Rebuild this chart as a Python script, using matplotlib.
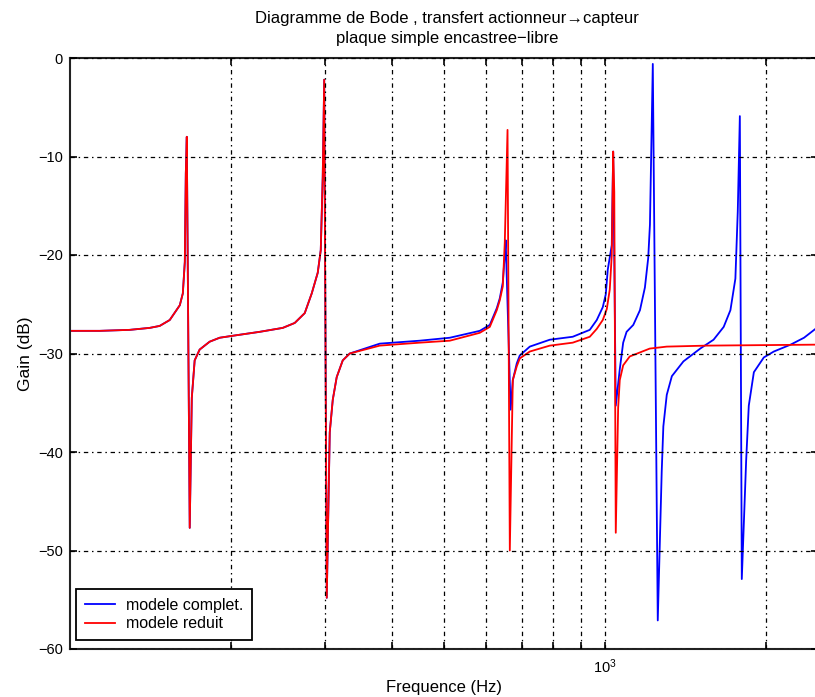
import matplotlib
matplotlib.use("Agg")
import matplotlib.pyplot as plt
from matplotlib.ticker import FixedLocator, NullFormatter, FixedFormatter

plt.rcParams['font.family'] = ['Liberation Sans', 'DejaVu Sans']
plt.rcParams['mathtext.fontset'] = 'custom'
plt.rcParams['mathtext.rm'] = 'Liberation Sans'
plt.rcParams['mathtext.it'] = 'Liberation Sans'

# Gain curves (frequency in Hz, gain in dB)
red_freq = [100, 113.6, 129.3, 140.9, 147.1, 153.6, 160.4, 162.5, 163.9, 164.6, 165.3,
            167.4, 168.9, 171.0, 174.7, 182.4, 190.4, 201.4, 226.2, 249.8, 263.0, 274.6,
            283.0, 290.4, 294.2, 296.7, 298.6, 301.9, 305.8, 309.8, 315.1, 323.4, 333.3,
            379.2, 450.4, 512.6, 583.2, 608.9, 627.5, 635.6, 643.9, 649.5, 657.2, 663.7,
            672.3, 683.9, 692.8, 723.3, 788.3, 870.1, 936.3, 964.9, 990.1, 1007.3, 1020.4,
            1029.2, 1035.5, 1040.4, 1047.1, 1057.9, 1065.3, 1081, 1112, 1212, 1304, 1548, 2500]
red_gain = [-27.7, -27.7, -27.6, -27.4, -27.2, -26.6, -25.1, -23.9, -20.7, -11.7, -8.0,
            -47.7, -34.5, -30.7, -29.6, -28.8, -28.4, -28.2, -27.8, -27.4, -26.9, -25.9,
            -23.9, -21.8, -19.5, -12.1, -2.2, -54.8, -38.0, -34.7, -32.4, -30.7, -30.0,
            -29.2, -28.9, -28.7, -27.9, -27.3, -25.6, -24.6, -23.2, -18.7, -7.3, -50.0,
            -32.7, -31.3, -30.5, -29.8, -29.2, -28.9, -28.3, -27.5, -26.6, -25.5, -23.5,
            -20.0, -9.5, -13.6, -48.2, -35.5, -32.7, -31.2, -30.3, -29.5, -29.3, -29.2, -29.1]

blue_freq = [100, 113.6, 129.3, 140.9, 147.1, 153.6, 160.4, 162.5, 163.9, 164.6, 165.3,
             167.4, 168.9, 171.0, 174.7, 182.4, 190.4, 201.4, 226.2, 249.8, 263.0, 274.6,
             283.0, 290.4, 294.2, 296.7, 298.6, 301.9, 305.8, 309.8, 315.1, 323.4, 333.3,
             379.2, 450.4, 512.6, 583.2, 608.9, 627.5, 635.6, 643.9, 649.5, 652.0, 666.0,
             672.3, 683.9, 692.8, 723.3, 788.3, 870.1, 936.3, 964.9, 990.1, 1003, 1011.6,
             1029.2, 1035.5, 1047.1, 1065.3, 1081, 1097, 1129, 1162, 1187, 1204, 1213,
             1228, 1254.5, 1276, 1285, 1304, 1333, 1401, 1506, 1595, 1666, 1715, 1752,
             1770, 1786, 1801, 1835, 1856, 1897, 1980, 2067, 2222, 2354, 2500]
blue_gain = [-27.7, -27.7, -27.6, -27.4, -27.2, -26.6, -25.1, -23.9, -20.7, -11.7, -8.0,
             -47.7, -34.5, -30.7, -29.6, -28.8, -28.4, -28.2, -27.8, -27.4, -26.9, -25.9,
             -23.9, -21.8, -19.5, -12.1, -2.2, -54.8, -38.0, -34.7, -32.4, -30.7, -30.0,
             -29.0, -28.7, -28.4, -27.7, -27.1, -25.4, -24.4, -22.8, -20.0, -18.5, -35.7,
             -32.7, -31.0, -30.2, -29.3, -28.6, -28.3, -27.6, -26.6, -25.3, -24.0, -21.5,
             -19.0, -9.5, -35.3, -31.6, -28.9, -27.8, -27.1, -25.6, -23.3, -20.3, -16.9,
             -0.6, -57.1, -42.0, -37.4, -34.2, -32.3, -30.8, -29.5, -28.6, -27.3, -25.6, -22.4,
             -15.6, -5.9, -52.9, -40.9, -35.3, -31.9, -30.4, -29.8, -29.1, -28.4, -27.3]

y_ticks = [-60, -50, -40, -30, -20, -10, 0]
x_major = [1000]
x_minor = [200, 300, 400, 500, 600, 700, 800, 900, 2000]

fig = plt.figure(figsize=(8.15, 6.97), dpi=100)
ax = fig.add_axes([70 / 815, 48 / 697, 748 / 815, 591 / 697])

ax.semilogx(blue_freq, blue_gain, color=(0, 0, 1), lw=1.3, label='modele complet.')
ax.semilogx(red_freq, red_gain, color=(1, 0, 0), lw=1.3, label='modele reduit')

ax.set_xlim(100, 2500)
ax.set_ylim(-60, 0)
ax.set_yticks(y_ticks)
ax.xaxis.set_major_locator(FixedLocator(x_major))
ax.xaxis.set_major_formatter(FixedFormatter([r'$10^{3}$']))
ax.xaxis.set_minor_locator(FixedLocator(x_minor))
ax.xaxis.set_minor_formatter(NullFormatter())

grid_style = dict(color='black', lw=0.9, linestyle=(0, (3.5, 3, 1.2, 3)))
ax.grid(True, which='major', axis='y', **grid_style)
ax.grid(True, which='both', axis='x', **grid_style)
ax.set_axisbelow(False)

ax.tick_params(which='both', direction='in', top=True, right=True, length=5, width=1.2,
               labelsize=10.5, pad=5)
ax.tick_params(which='major', axis='x', pad=6)
for s in ax.spines.values():
    s.set_linewidth(1.5)
    s.set_color('#222222')

ax.set_xlabel('Frequence (Hz)', fontsize=12, labelpad=3)
ax.set_ylabel('Gain (dB)', fontsize=12.5, labelpad=4)

fig.text(447 / 815, 1 - 18 / 697, 'Diagramme de Bode , transfert actionneur\u2192capteur',
         ha='center', va='center', fontsize=12)
fig.text(447 / 815, 1 - 39 / 697, 'plaque simple encastree\u2212libre',
         ha='center', va='center', fontsize=12)

leg = ax.legend(loc='lower left', bbox_to_anchor=(6 / 748, 9 / 591), borderaxespad=0,
                fontsize=11.5, frameon=True, fancybox=False, framealpha=1,
                edgecolor='black', handlelength=1.9, handletextpad=0.7,
                borderpad=0.55, labelspacing=0.2)
leg.get_frame().set_linewidth(1.3)

fig.savefig('out.png', dpi=100)
